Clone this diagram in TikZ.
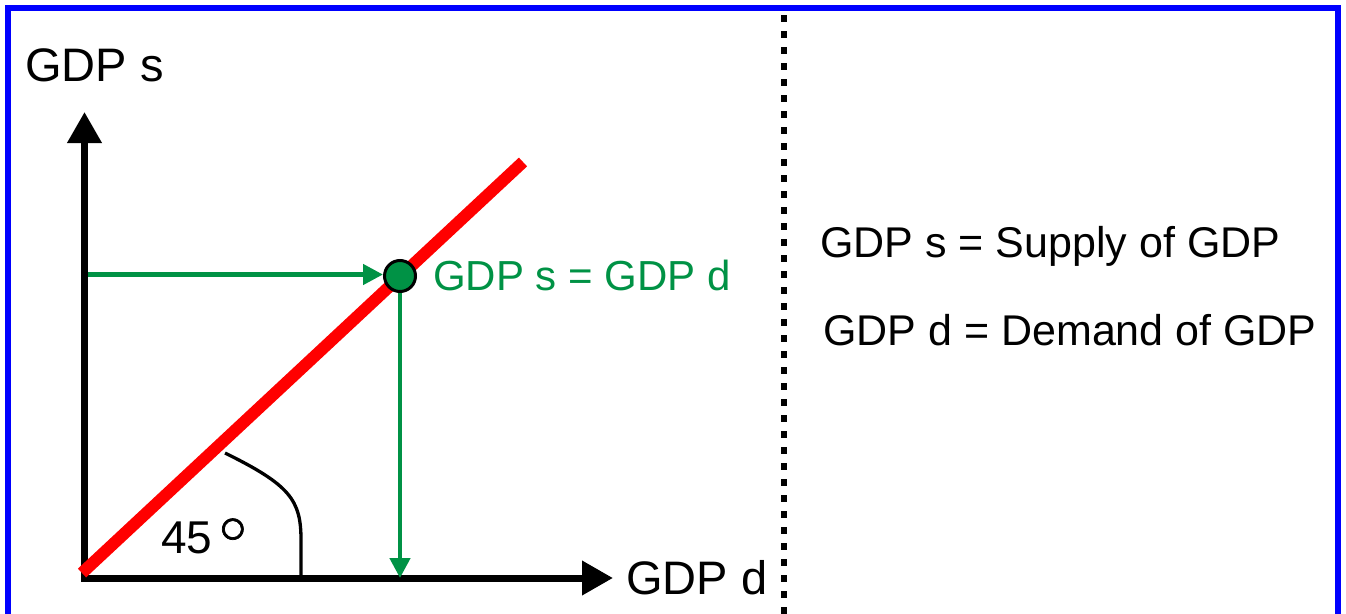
\documentclass[tikz,border=0pt]{standalone}
\usepackage{fontspec}
\setmainfont{Liberation Sans}
\usetikzlibrary{arrows.meta}
\definecolor{eqgreen}{RGB}{0,146,69}
\definecolor{frameblue}{RGB}{0,0,255}
\tikzset{
  axis/.style={line width=7pt, line join=miter, {Triangle[length=31pt,width=33pt]}-{Triangle[length=31pt,width=33pt]}},
  guide/.style={eqgreen, line width=4.5pt, -{Triangle[length=20pt,width=20pt]}},
  bigtext/.style={inner sep=0pt, anchor=base west, font=\fontsize{47pt}{50pt}\selectfont},
  legend/.style={inner sep=0pt, anchor=base west, font=\fontsize{43pt}{48pt}\selectfont},
  eqdot/.style={circle, draw=black, fill=eqgreen, line width=3pt, minimum size=31pt, inner sep=0pt},
}
\begin{document}
\begin{tikzpicture}[x=1pt,y=-1pt]
\useasboundingbox (0,0) rectangle (1346,613);
\clip (0,0) rectangle (1346,613);
\fill[white] (0,0) rectangle (1346,613);
% frame
\draw[frameblue, line width=6pt] (8,8) rectangle (1338,660);
% divider
\coordinate (d1) at (783.5,15);
\coordinate (d2) at (783.5,640);
\draw[line width=6pt, dash pattern=on 7pt off 9pt] (d1) -- (d2);
% axes
\coordinate (O) at (84.5,578);
\coordinate (ytip) at (84.5,112);
\coordinate (xtip) at (613,578);
\draw[axis] (ytip) |- (xtip);
% 45 degree line
\coordinate (r1) at (82,573);
\coordinate (r2) at (523,162);
\draw[red, line width=12pt] (r1) -- (r2);
% angle mark
\coordinate (a1) at (225,453);
\coordinate (a2) at (301,575);
\draw[line width=3.3pt] (a1) .. controls (290,485) and (301,500) .. (301,540) -- (a2);
% equilibrium point
\node[eqdot] (E) at (400,276) {};
\coordinate (h0) at (88,274.5);
\draw[guide] (h0) -- (h0 -| E.west);
\draw[guide] (E.south) -- (E.south |- O);
% labels
\node[bigtext] (ys) at (25,81) {GDP s};
\node[bigtext] (xd) at (626,594) {GDP d};
\node[inner sep=0pt, anchor=base west, font=\fontsize{46pt}{50pt}\selectfont] (ang) at (161,553) {45\hspace{6pt}{\fontsize{48pt}{48pt}\selectfont\addfontfeature{FakeBold=1.5}\raisebox{9.5pt}{○}}};
\node[inner sep=0pt, anchor=base west, eqgreen, font=\fontsize{42pt}{46pt}\selectfont] (eq) at (433,290) {GDP s = GDP d};
\node[legend] (l1) at (820,257) {GDP s = Supply of GDP};
\node[legend] (l2) at (823,345) {GDP d = Demand of GDP};
\end{tikzpicture}
\end{document}
